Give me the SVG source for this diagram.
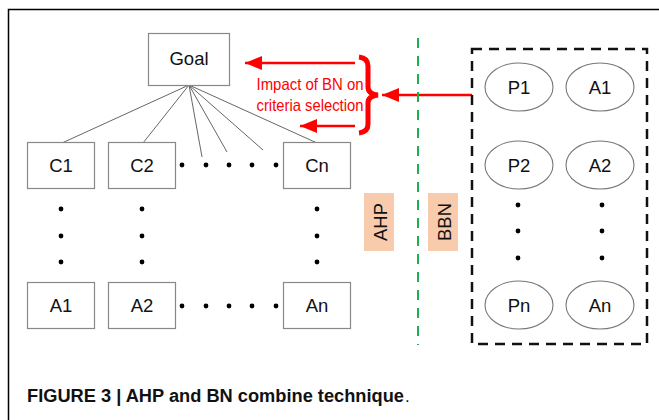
<svg xmlns="http://www.w3.org/2000/svg" width="659" height="420" viewBox="0 0 659 420">
<style>
.box{fill:#fff;stroke:#888;stroke-width:1.2}
.ell{fill:#fff;stroke:#777;stroke-width:1.1}
.t{font-family:"Liberation Sans",Arial,sans-serif;font-size:18.5px;fill:#111;text-anchor:middle;dominant-baseline:central}
.red{font-family:"Liberation Sans",Arial,sans-serif;font-size:16.5px;fill:#f00;text-anchor:middle}
.lbl{fill:#f8cbad}
.edge{stroke:#555;stroke-width:0.9;fill:none}
.arr{stroke:#f00;stroke-width:2.5;fill:none}
.dot{fill:#000}
</style>
<defs>
<marker id="ah" markerUnits="userSpaceOnUse" markerWidth="18" markerHeight="14" refX="17" refY="7" orient="auto">
<polygon points="0,0 17,7 0,14" fill="#f00"/>
</marker>
</defs>
<rect x="8.5" y="9.5" width="700" height="500" fill="#fff" stroke="#000" stroke-width="1.5"/>
<g id="connectors">
<line class="edge" x1="189" y1="85" x2="62" y2="143"/>
<line class="edge" x1="189" y1="85" x2="143" y2="143"/>
<line class="edge" x1="189" y1="85" x2="202" y2="157"/>
<line class="edge" x1="189" y1="85" x2="227" y2="152"/>
<line class="edge" x1="189" y1="85" x2="263" y2="150"/>
<line class="edge" x1="189" y1="85" x2="317" y2="143"/>
<line class="arr" x1="355" y1="63" x2="245" y2="63" marker-end="url(#ah)"/>
<line class="arr" x1="355" y1="126" x2="300" y2="126" marker-end="url(#ah)"/>
<line class="arr" x1="472" y1="95" x2="382" y2="95" marker-end="url(#ah)"/>
<path d="M359,57 Q368,58 368,66 L368,87 Q368,94 378,95 Q368,96 368,103 L368,124 Q368,132 359,133" fill="none" stroke="#f00" stroke-width="5"/>
</g>
<line x1="418" y1="38" x2="418" y2="345" stroke="#1db04a" stroke-width="2" stroke-dasharray="10,8"/>
<rect x="472" y="49" width="175" height="295" fill="none" stroke="#111" stroke-width="2.5" stroke-dasharray="10,7"/>
<text class="red" x="310" y="90" textLength="107" lengthAdjust="spacingAndGlyphs">Impact of BN on</text>
<text class="red" x="310" y="111" textLength="107" lengthAdjust="spacingAndGlyphs">criteria selection</text>
<g id="goal"><rect class="box" x="148.5" y="33.5" width="81" height="52"/><text class="t" x="189" y="58">Goal</text></g>
<g id="c1"><rect class="box" x="27.5" y="142.5" width="67" height="46"/><text class="t" x="61" y="165">C1</text></g>
<g id="c2"><rect class="box" x="108.5" y="142.5" width="67" height="46"/><text class="t" x="142" y="165">C2</text></g>
<g id="cn"><rect class="box" x="283.5" y="142.5" width="67" height="46"/><text class="t" x="317" y="165">Cn</text></g>
<g id="a1"><rect class="box" x="27.5" y="282.5" width="67" height="46"/><text class="t" x="61" y="305">A1</text></g>
<g id="a2"><rect class="box" x="108.5" y="282.5" width="67" height="46"/><text class="t" x="142" y="305">A2</text></g>
<g id="an"><rect class="box" x="283.5" y="282.5" width="67" height="46"/><text class="t" x="317" y="305">An</text></g>
<g id="dots">
<circle class="dot" cx="182" cy="165" r="2.4"/><circle class="dot" cx="206" cy="165" r="2.4"/><circle class="dot" cx="229" cy="165" r="2.4"/><circle class="dot" cx="252" cy="165" r="2.4"/><circle class="dot" cx="276" cy="165" r="2.4"/>
<circle class="dot" cx="182" cy="306" r="2.4"/><circle class="dot" cx="206" cy="306" r="2.4"/><circle class="dot" cx="229" cy="306" r="2.4"/><circle class="dot" cx="252" cy="306" r="2.4"/><circle class="dot" cx="276" cy="306" r="2.4"/>
<circle class="dot" cx="61" cy="209" r="2.4"/><circle class="dot" cx="61" cy="236" r="2.4"/><circle class="dot" cx="61" cy="262" r="2.4"/>
<circle class="dot" cx="142" cy="209" r="2.4"/><circle class="dot" cx="142" cy="236" r="2.4"/><circle class="dot" cx="142" cy="262" r="2.4"/>
<circle class="dot" cx="317" cy="209" r="2.4"/><circle class="dot" cx="317" cy="236" r="2.4"/><circle class="dot" cx="317" cy="262" r="2.4"/>
<circle class="dot" cx="518" cy="205" r="2.4"/><circle class="dot" cx="518" cy="231" r="2.4"/><circle class="dot" cx="518" cy="258" r="2.4"/>
<circle class="dot" cx="602" cy="205" r="2.4"/><circle class="dot" cx="602" cy="231" r="2.4"/><circle class="dot" cx="602" cy="258" r="2.4"/>
</g>
<g id="ahp"><rect class="lbl" x="364" y="193" width="30" height="58"/><text class="t" transform="translate(380,222) rotate(-90)" x="0" y="0">AHP</text></g>
<g id="bbn"><rect class="lbl" x="428" y="193" width="30" height="58"/><text class="t" transform="translate(444,222) rotate(-90)" x="0" y="0">BBN</text></g>
<g id="p1"><ellipse class="ell" cx="519" cy="87" rx="34" ry="24"/><text class="t" x="519" y="87">P1</text></g>
<g id="ea1"><ellipse class="ell" cx="600" cy="87" rx="34" ry="24"/><text class="t" x="600" y="87">A1</text></g>
<g id="p2"><ellipse class="ell" cx="519" cy="165" rx="34" ry="24"/><text class="t" x="519" y="165">P2</text></g>
<g id="ea2"><ellipse class="ell" cx="600" cy="165" rx="34" ry="24"/><text class="t" x="600" y="165">A2</text></g>
<g id="pn"><ellipse class="ell" cx="519" cy="305" rx="34" ry="24"/><text class="t" x="519" y="305">Pn</text></g>
<g id="ean"><ellipse class="ell" cx="600" cy="305" rx="34" ry="24"/><text class="t" x="600" y="305">An</text></g>
<text x="27" y="402" font-family="'Liberation Sans',Arial,sans-serif" font-size="17.5" font-weight="bold" fill="#111" textLength="377" lengthAdjust="spacingAndGlyphs">FIGURE 3 | AHP and BN combine technique</text>
<text x="405" y="402" font-family="'Liberation Sans',Arial,sans-serif" font-size="17" fill="#111">.</text>
</svg>
